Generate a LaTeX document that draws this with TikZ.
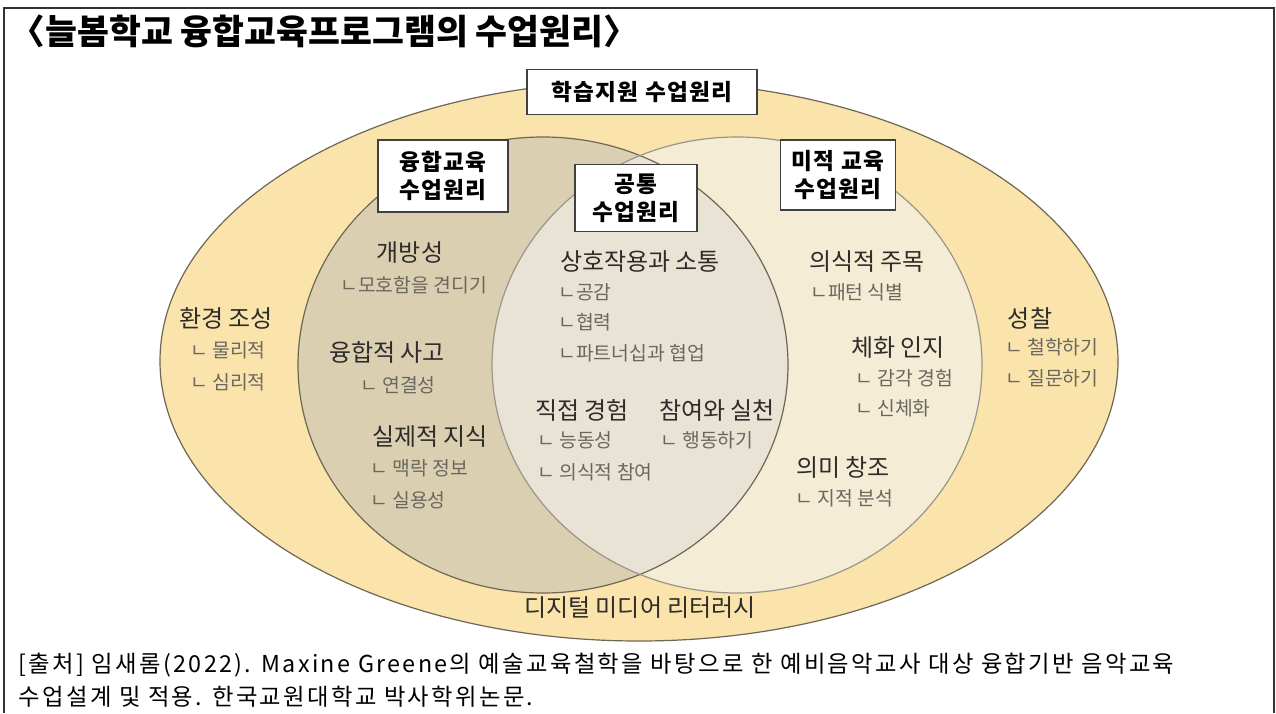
\documentclass[tikz,border=0pt]{standalone}
\usepackage{fontspec}
\setmainfont{Noto Sans CJK KR}
\newfontfamily\spacedkr[LetterSpace=10]{Noto Sans CJK KR}
\newfontfamily\boxkr[LetterSpace=6]{Noto Sans CJK KR}
\definecolor{outerfill}{HTML}{FAE4AC}
\definecolor{leftfill}{HTML}{DAD0B1}
\definecolor{rightfill}{HTML}{F4ECD4}
\definecolor{midfill}{HTML}{E8E3D5}
\definecolor{rim}{HTML}{6E6755}
\definecolor{headtext}{HTML}{2E2C29}
\definecolor{subtext}{HTML}{6A675F}
\begin{document}
\begin{tikzpicture}[x=0.75pt,y=-0.75pt,
  labelbox/.style={draw=black!75,line width=1.2pt,fill=white,align=center,
    font=\boxkr\fontsize{17}{21}\selectfont\bfseries,inner sep=2pt},
  head/.style={text=headtext,font=\fontsize{18}{21}\selectfont},
  sub/.style={text=subtext,font=\fontsize{14.5}{17}\selectfont,anchor=west,inner sep=0pt},
  rimline/.style={draw=rim,line width=0.9pt}]
\useasboundingbox (0,0) rectangle (1276,713);
\fill[outerfill] (639,361) ellipse [x radius=479,y radius=280];
\fill[leftfill] (543,365) ellipse [x radius=245,y radius=228];
\fill[rightfill] (737,365) ellipse [x radius=245,y radius=228];
\begin{scope}
\clip (543,365) ellipse [x radius=245,y radius=228];
\fill[midfill] (737,365) ellipse [x radius=245,y radius=228];
\end{scope}
\draw[rimline] (639,361) ellipse [x radius=479,y radius=280];
\draw[rimline] (543,365) ellipse [x radius=245,y radius=228];
\draw[rimline,draw=rim!70] (737,365) ellipse [x radius=245,y radius=228];
\draw[black!80,line width=1.5pt] (4,713) -- (4,8) -- (1274,8) -- (1274,713);
\node[anchor=west,font=\fontsize{26}{30}\selectfont\bfseries] (title) at (6,31) {〈늘봄학교 융합교육프로그램의 수업원리〉};
\node[labelbox,minimum width=172.5pt,minimum height=33.75pt] (learnbox) at (642,92) {학습지원 수업원리};
\node[labelbox,minimum width=97.5pt,minimum height=54pt] (fusionbox) at (443,176) {융합교육\\수업원리};
\node[labelbox,minimum width=91.5pt,minimum height=50pt] (commonbox) at (636,198) {공통\\수업원리};
\node[labelbox,minimum width=86pt,minimum height=52.5pt] (aestbox) at (838,175) {미적 교육\\수업원리};
\node[head] (env) at (226,318) {환경 조성};
\node[sub] (env1) at (190,350) {ㄴ 물리적};
\node[sub] (env2) at (190,382) {ㄴ 심리적};
\node[head] (open) at (410,253) {개방성};
\node[sub] (open1) at (340,285) {ㄴ모호함을 견디기};
\node[head] (think) at (387,352) {융합적 사고};
\node[sub] (think1) at (360,385) {ㄴ 연결성};
\node[head] (know) at (430,437) {실제적 지식};
\node[sub] (know1) at (370,468) {ㄴ 맥락 정보};
\node[sub] (know2) at (370,500) {ㄴ 실용성};
\node[head] (inter) at (640,262) {상호작용과 소통};
\node[sub] (inter1) at (558,292) {ㄴ공감};
\node[sub] (inter2) at (558,322) {ㄴ협력};
\node[sub] (inter3) at (558,353) {ㄴ파트너십과 협업};
\node[head] (direct) at (582,410) {직접 경험};
\node[sub] (direct1) at (537,440) {ㄴ 능동성};
\node[sub] (direct2) at (537,472) {ㄴ 의식적 참여};
\node[head] (part) at (717,410) {참여와 실천};
\node[sub] (part1) at (660,440) {ㄴ 행동하기};
\node[head] (attend) at (867,262) {의식적 주목};
\node[sub] (attend1) at (810,292) {ㄴ패턴 식별};
\node[head] (embody) at (898,348) {체화 인지};
\node[sub] (embody1) at (855,378) {ㄴ 감각 경험};
\node[sub] (embody2) at (855,408) {ㄴ 신체화};
\node[head] (mean) at (843,467) {의미 창조};
\node[sub] (mean1) at (795,498) {ㄴ 지적 분석};
\node[head] (refl) at (1030,318) {성찰};
\node[sub] (refl1) at (1005,347) {ㄴ 철학하기};
\node[sub] (refl2) at (1005,378) {ㄴ 질문하기};
\node[head] (digital) at (640,608) {디지털 미디어 리터러시};
\node[anchor=west,font=\spacedkr\fontsize{17.5}{20}\selectfont] (src1) at (14,665) {[출처] 임새롬(2022). Maxine Greene의 예술교육철학을 바탕으로 한 예비음악교사 대상 융합기반 음악교육};
\node[anchor=west,font=\spacedkr\fontsize{17.5}{20}\selectfont] (src2) at (14,697) {수업설계 및 적용. 한국교원대학교 박사학위논문.};
\end{tikzpicture}
\end{document}
